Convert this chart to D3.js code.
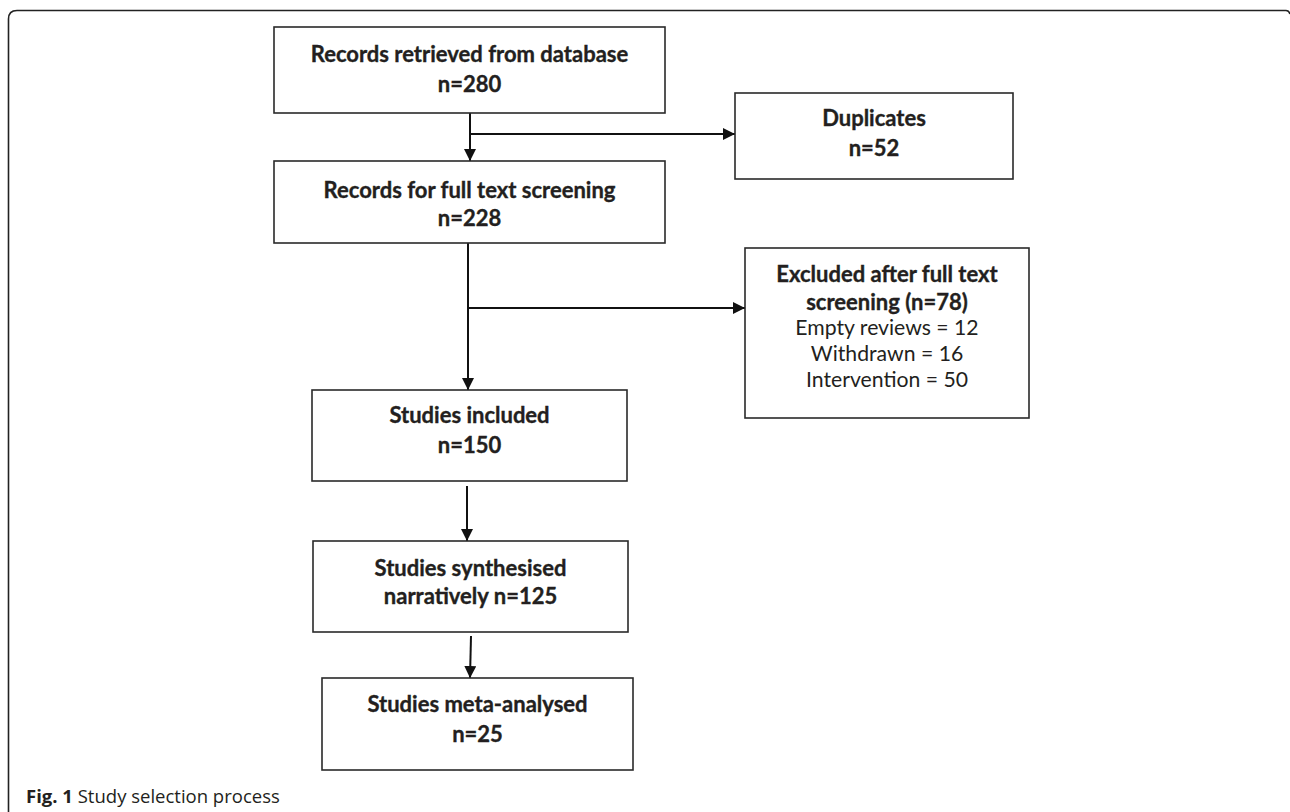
<!DOCTYPE html>
<html>
<head>
<meta charset="utf-8">
<script src="https://cdn.jsdelivr.net/npm/d3@7"></script>
<style>
  html, body { margin: 0; padding: 0; background: #fff; }
  svg { display: block; }
</style>
</head>
<body>
<svg id="chart" width="1290" height="812"></svg>
<script>
// ---- data ----
const stageTitles = [
  "Records retrieved from database",
  "Records for full text screening",
  "Studies included",
  "Studies synthesised",
  "Studies meta-analysed"
];
const stageCounts = [280, 228, 150, 125, 25];
const duplicatesLabel = "Duplicates";
const duplicatesCount = 52;
const excludedLabel = ["Excluded after full text", "screening"];
const excludedCount = 78;
const exclusionReasons = ["Empty reviews", "Withdrawn", "Intervention"];
const exclusionCounts = [12, 16, 50];
const captionBold = "Fig. 1";
const captionText = " Study selection process";

// ---- layout (positions kept separate from data) ----
const layout = {
  stages: [
    {x0: 274, x1: 665, y0: 27,  y1: 113, lines: [53, 83]},
    {x0: 274, x1: 665, y0: 161, y1: 243, lines: [189, 217]},
    {x0: 312, x1: 627, y0: 390, y1: 481, lines: [414, 444]},
    {x0: 313, x1: 628, y0: 541, y1: 632, lines: [567, 595]},
    {x0: 322, x1: 633, y0: 678, y1: 770, lines: [703, 733]}
  ],
  dup: {x0: 735, x1: 1013, y0: 93, y1: 179, lines: [117, 147]},
  exc: {x0: 745, x1: 1029, y0: 248, y1: 418, lines: [273, 301, 327, 353, 379]},
  arrows: [
    [[470, 113], [470, 161]],
    [[470, 134], [735, 134]],
    [[468, 243], [468, 390]],
    [[468, 308], [745, 308]],
    [[467, 486], [467, 541]],
    [[471, 636], [470, 678]]
  ]
};

const svg = d3.select("#chart");
const ink = "#231f20";
const font = "Lato, 'Carlito', Calibri, sans-serif";

// frame
svg.append("path")
  .attr("d", "M8.5,812 L8.5,19 Q8.5,10.5 17,10.5 L1286,10.5 Q1289,10.5 1290,14")
  .attr("fill", "none").attr("stroke", "#222").attr("stroke-width", 1.6);

// arrowhead marker
svg.append("defs").append("marker")
  .attr("id", "ah").attr("viewBox", "0 0 12 12")
  .attr("refX", 12).attr("refY", 6)
  .attr("markerWidth", 12).attr("markerHeight", 12)
  .attr("markerUnits", "userSpaceOnUse")
  .attr("orient", "auto")
  .append("path").attr("d", "M0,0 L12,6 L0,12 Z").attr("fill", "#111");

const line = d3.line();
svg.selectAll("path.arrow").data(layout.arrows).join("path")
  .attr("class", "arrow")
  .attr("d", d => line(d))
  .attr("fill", "none").attr("stroke", "#111").attr("stroke-width", 2)
  .attr("marker-end", "url(#ah)");

function box(b) {
  svg.append("rect")
    .attr("x", b.x0).attr("y", b.y0)
    .attr("width", b.x1 - b.x0).attr("height", b.y1 - b.y0)
    .attr("fill", "#fff").attr("stroke", "#2a2a2a").attr("stroke-width", 1.6);
}
function lineText(b, texts) {
  const cx = (b.x0 + b.x1) / 2;
  svg.selectAll(null).data(texts).join("text")
    .attr("x", cx)
    .attr("y", (d, i) => b.lines[i])
    .attr("text-anchor", "middle")
    .attr("dominant-baseline", "central")
    .attr("font-family", font)
    .attr("font-size", d => d.bold ? 22 : 21.2)
    .attr("font-weight", d => d.bold ? 700 : 400)
    .attr("fill", ink)
    .attr("stroke", d => d.bold ? ink : "none")
    .attr("stroke-width", 0.35)
    .text(d => d.t);
}

// stage boxes
const stageLines = stageTitles.map((t, i) => {
  if (i === 3) return [{t: t, bold: true}, {t: "narratively n=" + stageCounts[i], bold: true}];
  return [{t: t, bold: true}, {t: "n=" + stageCounts[i], bold: true}];
});
layout.stages.forEach((b, i) => { box(b); lineText(b, stageLines[i]); });

// duplicates
box(layout.dup);
lineText(layout.dup, [{t: duplicatesLabel, bold: true}, {t: "n=" + duplicatesCount, bold: true}]);

// excluded
box(layout.exc);
const excLines = [
  {t: excludedLabel[0], bold: true},
  {t: excludedLabel[1] + " (n=" + excludedCount + ")", bold: true}
].concat(exclusionReasons.map((r, i) => ({t: r + " = " + exclusionCounts[i], bold: false})));
lineText(layout.exc, excLines);

// caption
const cap = svg.append("text")
  .attr("x", 26).attr("y", 803)
  .attr("font-family", "'Open Sans', 'Noto Sans', sans-serif")
  .attr("font-size", 18.5)
  .attr("fill", ink);
cap.append("tspan").attr("font-weight", 700).text(captionBold);
cap.append("tspan").attr("font-weight", 400).text(captionText);
</script>
</body>
</html>
